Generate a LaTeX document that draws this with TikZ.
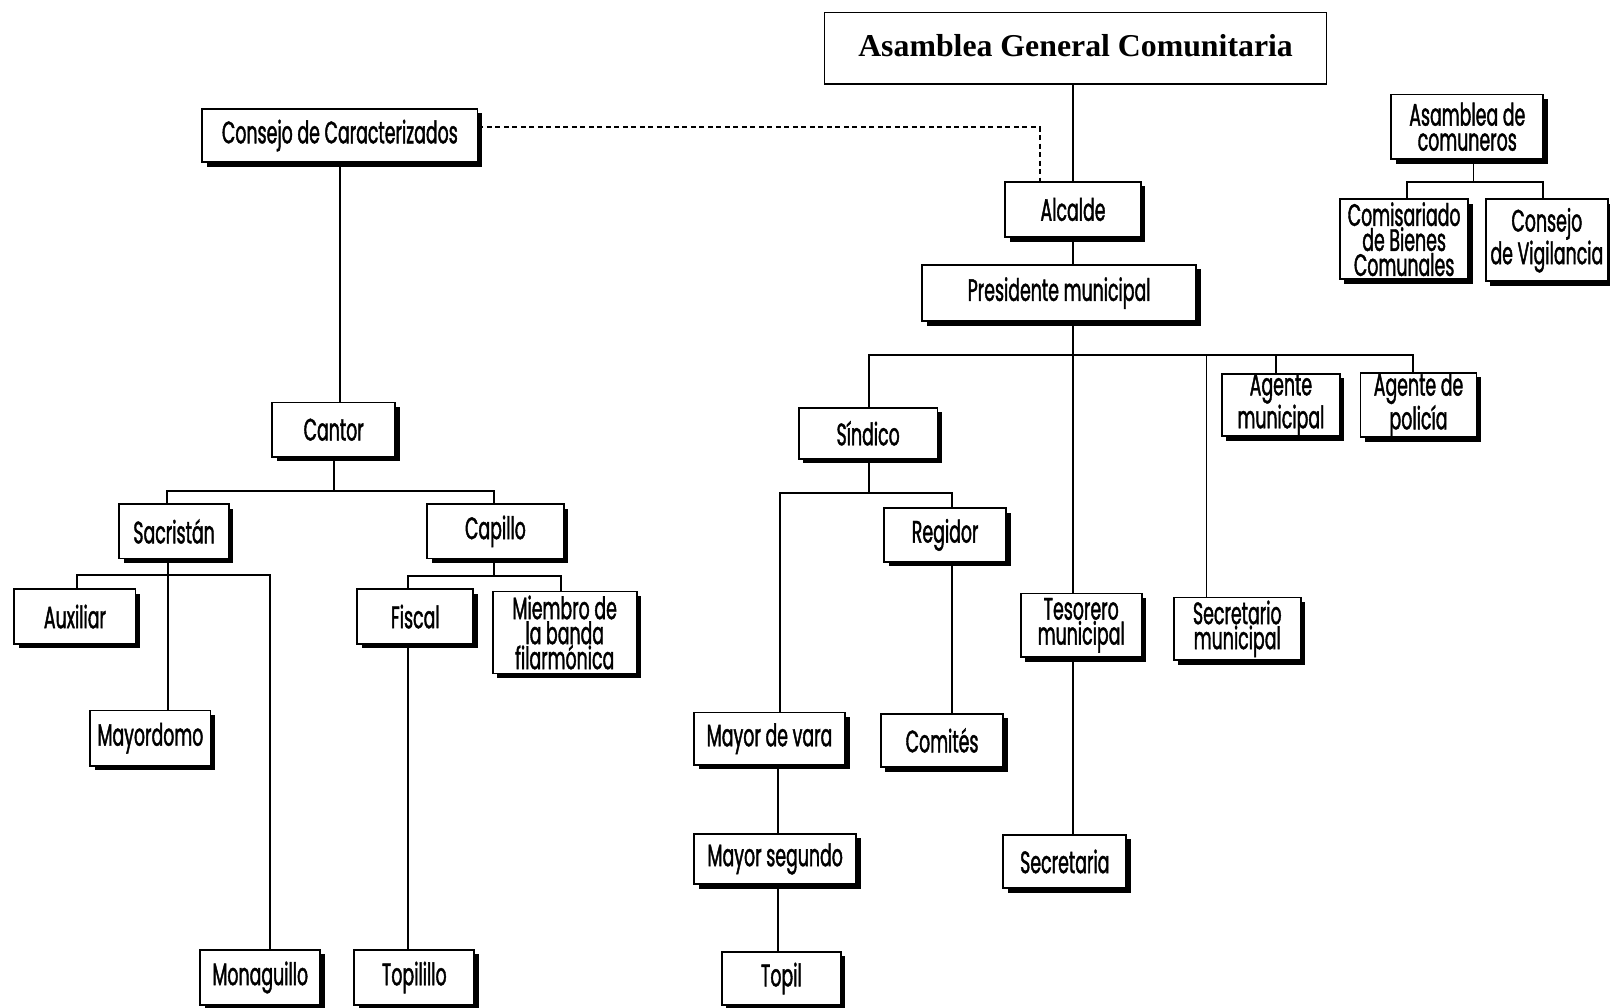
\documentclass[tikz,border=0pt]{standalone}
\usepackage{fontspec}
\usetikzlibrary{shadows}
\newfontfamily\boxfont[FakeStretch=0.56,FakeBold=1.3]{Poppins}
\newfontfamily\titlefont{Liberation Serif}
\tikzset{
  sz/.style 2 args={minimum width={#1*1.0268pt}, minimum height={#2*1.0268pt}},
  box/.style={draw, line width=1.8pt, fill=white, inner sep=0pt, align=center,
    font=\boxfont\fontsize{31}{25}\selectfont,
    drop shadow={shadow xshift=4.5pt, shadow yshift=-4.5pt, opacity=1, fill=black}},
  titlebox/.style={draw, line width=1.6pt, fill=white, inner sep=0pt,
    font=\titlefont\bfseries\fontsize{31.8}{36}\selectfont},
  link/.style={line width=1.8pt},
  dlink/.style={line width=2.3pt, dash pattern=on 5pt off 3.5pt}}
\begin{document}
\begin{tikzpicture}[x=1.0268pt,y=-1.0268pt]
\fill[white] (0,0) rectangle (1568,981);
\useasboundingbox (0,0) rectangle (1568,981);

% --- boxes ---
\node[titlebox, sz={489}{70}] (agc) at (1047.5,47) {\raisebox{5pt}{Asamblea General Comunitaria}};
\node[box, sz={268}{52}] (cdc) at (331,132) {Consejo de Caracterizados};
\node[box, sz={132}{54}] (alc) at (1045,204) {Alcalde};
\node[box, sz={267}{55}] (pres) at (1031.5,285.5) {Presidente municipal};
\node[box, sz={148}{63}] (acom) at (1429,123.5) {Asamblea de\\comuneros};
\node[box, sz={125}{78}] (comis) at (1367.5,233) {Comisariado\\de Bienes\\Comunales};
\node[box, sz={119}{80}] (cvig) at (1506.5,234) {Consejo\\de Vigilancia};

\node[box, sz={120}{53}] (cantor) at (325,418.5) {Cantor};
\node[box, sz={107}{53}] (sacr) at (169.5,517.5) {Sacristán};
\node[box, sz={133}{53}] (capillo) at (482.5,517.5) {Capillo};
\node[box, sz={118}{53}] (aux) at (73,600.5) {Auxiliar};
\node[box, sz={113}{53}] (fiscal) at (404.5,600.5) {Fiscal};
\node[box, sz={140}{80}] (miembro) at (550,616) {Miembro de\\la banda\\filarmónica};
\node[box, sz={117}{54}] (mayordomo) at (146.5,719) {Mayordomo};
\node[box, sz={117}{54}] (monag) at (253.5,952) {Monaguillo};
\node[box, sz={117}{54}] (topilillo) at (403.5,952) {Topilillo};

\node[box, sz={135}{50}] (sindico) at (845.5,422) {Síndico};
\node[box, sz={119}{52}] (regidor) at (920.5,521) {Regidor};
\node[box, sz={115}{59}] (agmun) at (1247.5,394.5) {Agente\\municipal};
\node[box, sz={113}{59}] (agpol) at (1381.5,394.5) {Agente de\\policía};
\node[box, sz={118}{62}] (tes) at (1053,609) {Tesorero\\municipal};
\node[box, sz={124}{61}] (secmun) at (1205,612.5) {Secretario\\municipal};
\node[box, sz={147}{51}] (mvara) at (749.5,719.5) {Mayor de vara};
\node[box, sz={119}{52}] (comites) at (917.5,721) {Comités};
\node[box, sz={158}{49}] (mseg) at (755,836.5) {Mayor segundo};
\node[box, sz={120}{52}] (secria) at (1037,839) {Secretaria};
\node[box, sz={116}{52}] (topil) at (761,953) {Topil};

% --- junction points ---
\coordinate (bus) at (1045,346);
\coordinate (jsin) at (846,346);
\coordinate (jsec) at (1175,346);
\coordinate (jmun) at (1243,346);
\coordinate (jpol) at (1376,346);
\coordinate (dk) at (1013,124);
\coordinate (sL) at (163,478);
\coordinate (sR) at (481,478);
\coordinate (sa) at (164,560);
\coordinate (aL) at (75,560);
\coordinate (aR) at (263,560);
\coordinate (cp) at (481,561);
\coordinate (fL) at (397,561);
\coordinate (fR) at (546,561);
\coordinate (sd) at (846,480);
\coordinate (mL) at (760,480);
\coordinate (mR) at (927,480);
\coordinate (mv) at (758,780);
\coordinate (ac) at (1435,177);
\coordinate (cL) at (1370,177);
\coordinate (cR) at (1503,177);

% --- municipal branch ---
\draw[link] (bus |- agc.south) -- (bus |- alc.north);
\draw[link] (bus |- alc.south) -- (bus |- pres.north);
\draw[link] (bus |- pres.south) -- (bus |- tes.north);
\draw[link] (jsin |- sindico.north) -- (jsin) -- (jpol) -- (jpol |- agpol.north);
\draw[link] (jsec) -- (jsec |- secmun.north);
\draw[link] (jmun) -- (jmun |- agmun.north);
\draw[link] (bus |- tes.south) -- (bus |- secria.north);
\draw[link] (sd |- sindico.south) -- (sd);
\draw[link] (mL |- mvara.north) -- (mL) -- (mR) -- (mR |- regidor.north);
\draw[link] (mR |- regidor.south) -- (mR |- comites.north);
\draw[link] (mv |- mvara.south) -- (mv |- mseg.north);
\draw[link] (mv |- mseg.south) -- (mv |- topil.north);

% --- religious branch ---
\draw[dlink] (cdc.east |- dk) -- (dk) -- (dk |- alc.north);
\draw[link] (cdc.south) -- (cdc.south |- cantor.north);
\draw[link] (cantor.south) -- (cantor.south |- sL);
\draw[link] (sL |- sacr.north) -- (sL) -- (sR) -- (sR |- capillo.north);
\draw[link] (sa |- sacr.south) -- (sa |- mayordomo.north);
\draw[link] (aL |- aux.north) -- (aL) -- (aR) -- (aR |- monag.north);
\draw[link] (cp |- capillo.south) -- (cp);
\draw[link] (fL |- fiscal.north) -- (fL) -- (fR) -- (fR |- miembro.north);
\draw[link] (fL |- fiscal.south) -- (fL |- topilillo.north);

% --- communal land branch ---
\draw[link] (ac |- acom.south) -- (ac);
\draw[link] (cL |- comis.north) -- (cL) -- (cR) -- (cR |- cvig.north);
\end{tikzpicture}
\end{document}
